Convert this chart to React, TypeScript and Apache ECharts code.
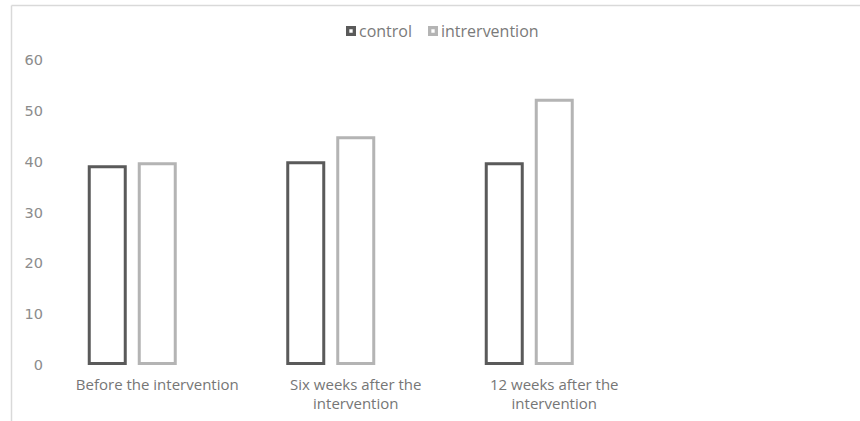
import React, { useEffect, useRef } from "react";
import * as echarts from "echarts";

const categories = ["Before the intervention", "Six weeks after the\nintervention", "12 weeks after the\nintervention"];
const controlValues = [39.3, 40.1, 39.9];
const interventionValues = [39.9, 45.0, 52.4];
const placeholderValues = [null, null, null];
const seriesNames = ["control", "intrervention"];
const yTicks = { min: 0, max: 60, interval: 10 };

const FONT = "'Open Sans', 'Noto Sans', sans-serif";
const NUMFONT = "'DejaVu Sans', 'Open Sans', sans-serif";
const DARK = "#5a5a5a";
const LIGHT = "#b4b4b4";
const ICON = "path://M0,0H9V9H0Z M3,3V6H6V3Z";

export default function App() {
  const ref = useRef<HTMLDivElement>(null);
  useEffect(() => {
    document.body.style.margin = "0";
    const chart = echarts.init(ref.current!, null, { renderer: "svg" });
    chart.setOption({
      animation: false,
      backgroundColor: "#ffffff",
      graphic: [
        { type: "line", silent: true, shape: { x1: 11.5, y1: 5.5, x2: 11.5, y2: 421 }, style: { stroke: "#d9d9d9", lineWidth: 1.5 } },
        { type: "line", silent: true, shape: { x1: 11.5, y1: 5.5, x2: 860, y2: 5.5 }, style: { stroke: "#d9d9d9", lineWidth: 1.5 } },
      ],
      legend: {
        left: 341,
        top: 18,
        itemWidth: 10,
        itemHeight: 10,
        itemGap: 16,
        icon: ICON,
        textStyle: { color: "#7a7a7a", fontSize: 16, fontFamily: FONT, padding: [0, 0, 0, -2] },
        data: [
          { name: seriesNames[0], itemStyle: { color: DARK, borderWidth: 0 } },
          { name: seriesNames[1], itemStyle: { color: LIGHT, borderWidth: 0 } },
        ],
      },
      grid: { left: 58, right: 206.5, top: 60, bottom: 56, containLabel: false },
      xAxis: {
        type: "category",
        data: categories,
        axisLine: { show: false },
        axisTick: { show: false },
        axisLabel: {
          color: "#767676",
          fontSize: 15,
          fontFamily: FONT,
          margin: 9,
          lineHeight: 19,
          interval: 0,
        },
      },
      yAxis: {
        type: "value",
        min: yTicks.min,
        max: yTicks.max,
        interval: yTicks.interval,
        axisLine: { show: false },
        axisTick: { show: false },
        splitLine: { show: false },
        axisLabel: { color: "#8c8c8c", fontSize: 14.5, fontFamily: NUMFONT, margin: 15 },
      },
      series: [
        {
          name: seriesNames[0],
          type: "bar",
          data: controlValues,
          barWidth: 39,
          barGap: "28.2%",
          itemStyle: { color: "#ffffff", borderColor: DARK, borderWidth: 3 },
        },
        {
          name: seriesNames[1],
          type: "bar",
          data: interventionValues,
          barWidth: 39,
          barGap: "28.2%",
          itemStyle: { color: "#ffffff", borderColor: LIGHT, borderWidth: 3 },
        },
        {
          name: "placeholder",
          type: "bar",
          data: placeholderValues,
          barWidth: 39,
          barGap: "28.2%",
          silent: true,
          itemStyle: { color: "transparent" },
        },
      ],
    });
    return () => chart.dispose();
  }, []);
  return <div ref={ref} style={{ width: 860, height: 421 }} />;
}
